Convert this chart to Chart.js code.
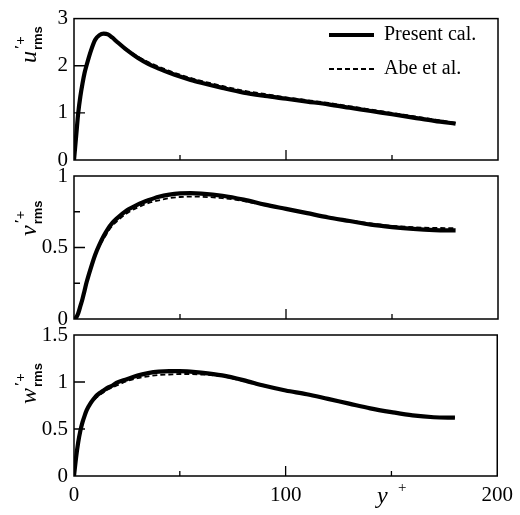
<!DOCTYPE html>
<html>
<head>
<meta charset="utf-8">
<script src="https://cdn.jsdelivr.net/npm/chart.js@4.4.0/dist/chart.umd.min.js"></script>
<style>
  body { margin: 0; background: #fff; }
  .wrap { position: relative; width: 520px; height: 515px; }
  canvas { position: absolute; left: 0; top: 0; }
</style>
</head>
<body>
<div class="wrap">
  <canvas id="c1" width="520" height="515"></canvas>
  <canvas id="c2" width="520" height="515"></canvas>
  <canvas id="c3" width="520" height="515"></canvas>
</div>
<script>
// wall distance y+
const yPlus = [0, 1, 2, 3, 4, 5, 6, 8, 10, 12, 14, 16, 18, 20, 25, 30, 35, 40, 45, 50, 55, 60, 70, 80, 90, 100, 110, 120, 130, 140, 150, 160, 170, 180];

// u'rms+
const uPresent = [0, 0.5, 1.0, 1.35, 1.62, 1.85, 2.02, 2.32, 2.55, 2.65, 2.68, 2.665, 2.6, 2.52, 2.33, 2.17, 2.04, 1.94, 1.85, 1.77, 1.7, 1.64, 1.53, 1.43, 1.36, 1.3, 1.24, 1.18, 1.11, 1.04, 0.97, 0.9, 0.83, 0.77];
const uAbe = [0, 0.5, 1.0, 1.35, 1.62, 1.85, 2.02, 2.32, 2.55, 2.65, 2.68, 2.665, 2.6, 2.52, 2.35, 2.2, 2.08, 1.98, 1.89, 1.81, 1.74, 1.68, 1.57, 1.47, 1.4, 1.33, 1.27, 1.21, 1.14, 1.07, 1.0, 0.93, 0.86, 0.79];

// v'rms+
const vPresent = [0, 0.01, 0.04, 0.09, 0.14, 0.2, 0.26, 0.36, 0.45, 0.52, 0.58, 0.63, 0.67, 0.7, 0.76, 0.8, 0.83, 0.855, 0.87, 0.878, 0.88, 0.877, 0.862, 0.835, 0.8, 0.77, 0.74, 0.71, 0.685, 0.66, 0.643, 0.63, 0.622, 0.62];
const vAbe = [0, 0.01, 0.04, 0.08, 0.13, 0.19, 0.25, 0.35, 0.44, 0.51, 0.56, 0.61, 0.65, 0.68, 0.74, 0.78, 0.81, 0.83, 0.845, 0.853, 0.856, 0.855, 0.845, 0.825, 0.795, 0.768, 0.74, 0.713, 0.69, 0.668, 0.652, 0.642, 0.637, 0.635];

// w'rms+
const wPresent = [0, 0.2, 0.36, 0.48, 0.57, 0.64, 0.7, 0.78, 0.84, 0.88, 0.91, 0.94, 0.96, 0.99, 1.03, 1.07, 1.095, 1.11, 1.115, 1.115, 1.11, 1.1, 1.07, 1.02, 0.96, 0.91, 0.87, 0.82, 0.77, 0.72, 0.68, 0.645, 0.625, 0.62];
const wAbe = [0, 0.19, 0.35, 0.47, 0.56, 0.63, 0.69, 0.77, 0.82, 0.86, 0.89, 0.92, 0.94, 0.96, 1.01, 1.04, 1.06, 1.075, 1.08, 1.085, 1.085, 1.08, 1.06, 1.01, 0.955, 0.91, 0.87, 0.82, 0.77, 0.72, 0.68, 0.645, 0.625, 0.62];

const seriesNames = ["Present cal.", "Abe et al."];
const xTicks = [0, 100, 200];

const SERIF = "'Liberation Serif', 'DejaVu Serif', serif";

function pts(ys) {
  return yPlus.map((x, i) => ({ x: x, y: ys[i] }));
}

// box around the plot area, ticks pointing inwards, axis titles, legend
const frame = {
  id: "frame",
  afterDatasetsDraw(chart, args, opts) {
    const ctx = chart.ctx;
    const a = chart.chartArea;
    const sx = chart.scales.x;
    const sy = chart.scales.y;
    ctx.save();
    ctx.strokeStyle = "#000";
    ctx.lineWidth = 1.5;
    ctx.strokeRect(a.left, a.top, a.right - a.left, a.bottom - a.top);
    ctx.lineWidth = 1.3;
    ctx.beginPath();
    sx.ticks.forEach((t) => {
      if (t.value <= sx.min || t.value >= sx.max) return;
      const px = sx.getPixelForValue(t.value);
      const len = xTicks.includes(t.value) ? 10 : 5;
      ctx.moveTo(px, a.bottom);
      ctx.lineTo(px, a.bottom - len);
    });
    sy.ticks.forEach((t) => {
      if (t.value <= sy.min || t.value >= sy.max) return;
      const py = sy.getPixelForValue(t.value);
      const len = opts.major.includes(t.value) ? 11 : 6;
      ctx.moveTo(a.left, py);
      ctx.lineTo(a.left + len, py);
    });
    ctx.stroke();

    // y title, rotated: letter, superscript, subscript
    ctx.fillStyle = "#000";
    ctx.translate(opts.titleX, opts.titleY);
    ctx.rotate(-Math.PI / 2);
    ctx.textBaseline = "alphabetic";
    ctx.textAlign = "left";
    ctx.font = "italic 24px " + SERIF;
    ctx.fillText(opts.letter, 0, 0);
    const w = ctx.measureText(opts.letter).width;
    ctx.font = "bold 13px 'Liberation Sans', Arial, sans-serif";
    ctx.fillText("rms", w + 1, 6);
    ctx.font = "bold 15px " + SERIF;
    ctx.fillText("\u2032+", w + 2, -11);
    ctx.setTransform(1, 0, 0, 1, 0, 0);

    if (opts.xTitle) {
      ctx.font = "italic 24px " + SERIF;
      ctx.fillText("y", 377, 503);
      ctx.font = "15px " + SERIF;
      ctx.fillText("+", 398, 492);
    }

    if (opts.legend) {
      const ds = chart.data.datasets;
      const rows = [35, 69];
      ds.forEach((d, i) => {
        const y = rows[i];
        ctx.beginPath();
        ctx.lineWidth = d.borderWidth;
        ctx.setLineDash(d.borderDash || []);
        ctx.moveTo(329, y);
        ctx.lineTo(374, y);
        ctx.stroke();
        ctx.setLineDash([]);
        ctx.font = "20px " + SERIF;
        ctx.textBaseline = "middle";
        ctx.fillText(d.label, 384, y);
      });
    }
    ctx.restore();
  }
};

function makePanel(id, present, abe, yMax, yStep, major, top, bottom, showX, letter, titleY, legend) {
  return new Chart(document.getElementById(id), {
    type: "line",
    data: {
      datasets: [
        {
          label: seriesNames[0],
          data: pts(present),
          borderColor: "#000",
          borderWidth: 4.2,
          pointRadius: 0,
          cubicInterpolationMode: "monotone",
          order: 2
        },
        {
          label: seriesNames[1],
          data: pts(abe),
          borderColor: "#000",
          borderWidth: 1.8,
          borderDash: [5, 3],
          pointRadius: 0,
          cubicInterpolationMode: "monotone",
          order: 1
        }
      ]
    },
    options: {
      responsive: false,
      animation: false,
      events: [],
      devicePixelRatio: 1,
      layout: { padding: { left: 0, right: 22, top: top, bottom: 0 } },
      scales: {
        x: {
          type: "linear",
          min: 0,
          max: 200,
          grid: { display: false, drawTicks: false },
          border: { display: false },
          afterFit: (s) => { s.height = 515 - bottom; },
          ticks: {
            display: showX,
            stepSize: 50,
            padding: 7,
            color: "#000",
            font: { family: SERIF, size: 21 },
            callback: (v) => (xTicks.includes(v) ? String(v) : "")
          }
        },
        y: {
          min: 0,
          max: yMax,
          grid: { display: false, drawTicks: false },
          border: { display: false },
          afterFit: (s) => { s.width = 74; },
          ticks: {
            stepSize: yStep,
            padding: 6,
            color: "#000",
            font: { family: SERIF, size: 21 },
            callback: (v) => (major.includes(v) || v === 0 || v === yMax ? String(v) : "")
          }
        }
      },
      plugins: {
        legend: { display: false },
        tooltip: { enabled: false },
        frame: { major: major, letter: letter, titleX: 36, titleY: titleY, legend: legend, xTitle: showX }
      }
    },
    plugins: [frame]
  });
}

makePanel("c1", uPresent, uAbe, 3, 1, [1, 2], 17, 160, false, "u", 63, true);
makePanel("c2", vPresent, vAbe, 1, 0.25, [0.5], 176, 319, false, "v", 236, false);
makePanel("c3", wPresent, wAbe, 1.5, 0.5, [0.5, 1], 335, 476, true, "w", 404, false);
</script>
</body>
</html>
